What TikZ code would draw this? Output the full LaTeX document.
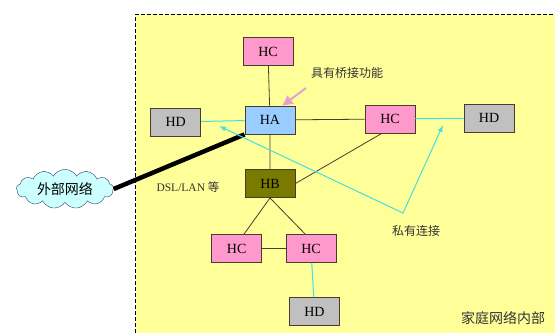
\documentclass[tikz,border=0pt]{standalone}
\usepackage{fontspec}
\setmainfont{Liberation Serif}
\newfontfamily\cjk{Noto Sans CJK SC}
\usetikzlibrary{shapes.symbols,arrows.meta}
\definecolor{bgyellow}{HTML}{FFFF99}
\definecolor{hcpink}{HTML}{FF99CC}
\definecolor{hablue}{HTML}{99CCFF}
\definecolor{hdgray}{HTML}{C0C0C0}
\definecolor{hbolive}{HTML}{7A7A00}
\definecolor{boxline}{HTML}{4A3A30}
\definecolor{privcyan}{HTML}{40E0E0}
\definecolor{bridgepink}{HTML}{E8A0D0}
\definecolor{cloudfill}{HTML}{CCFFFF}
\definecolor{cloudline}{HTML}{2F3F5F}
\definecolor{lbltext}{HTML}{333333}
\begin{document}
\begin{tikzpicture}[x=1pt,y=-1pt,
  box/.style={draw=boxline,line width=0.9pt,minimum width=50pt,minimum height=28pt,inner sep=0pt,font=\fontsize{14}{16}\selectfont},
  hc/.style={box,fill=hcpink},
  hd/.style={box,fill=hdgray},
  lbl/.style={text=lbltext,inner sep=1pt,font=\fontsize{12}{14}\selectfont},
  link/.style={draw=boxline,line width=0.8pt},
  priv/.style={draw=privcyan,line width=1pt}]
\useasboundingbox (0,0) rectangle (555,333);
\fill[bgyellow] (135.6,14) rectangle (555,333);
\draw[line width=1pt,dash pattern=on 4pt off 2pt] (135.6,333) -- (135.6,14) -- (555,14);

% devices
\node[hc] (hct) at (268,51.5) {HC};
\node[box,fill=hablue] (ha) at (270,120) {HA};
\node[hd] (hdl) at (175.7,122) {HD};
\node[hc] (hcr) at (390,119) {HC};
\node[hd] (hdr) at (489,118) {HD};
\node[box,fill=hbolive] (hb) at (270,183.5) {HB};
\node[hc] (hcbl) at (236.7,248.5) {HC};
\node[hc] (hcbr) at (311,248.5) {HC};
\node[hd] (hdb) at (314.5,311.5) {HD};
\node[cloud,cloud puffs=13,cloud puff arc=120,aspect=3.6,draw=cloudline,fill=cloudfill,
  inner xsep=6pt,inner ysep=1pt,
  font=\fontsize{14}{16}\selectfont] (ext) at (65,189) {\cjk 外部网络};

% labels
\node[lbl] (bridge) at (347,73) {\cjk 具有桥接功能};
\node[lbl,font=\fontsize{11.5}{14}\selectfont] (dsl) at (188,187) {DSL/LAN {\cjk 等}};
\node[lbl] (private) at (416,231) {\cjk 私有连接};
\node[lbl,font=\fontsize{14}{16}\selectfont] (home) at (503,318) {\cjk 家庭网络内部};

% links
\draw[link] (hct) -- (ha) -- (hb);
\draw[link] (ha) -- (hcr);
\draw[link] (hcr.240) -- (hb.east);
\draw[link] (hb.south) -- (hcbl.63);
\draw[link] (hb.south) -- (hcbr.112);
\draw[link] (hcbl) -- (hcbr);
\draw[line width=4.5pt] (ext.east) -- (ha.south west);

\draw[priv] (hdl) -- (ha);
\draw[priv] (hcr) -- (hdr);
\draw[priv] (hcbr) -- (hdb);
\coordinate (privl) at (219,126);
\coordinate (pv) at (403,213);
\coordinate (privr) at (443,125);
\draw[priv,{Latex[length=7pt,width=5pt]}-{Latex[length=7pt,width=5pt]}] (privl) -- (pv) -- (privr);

\coordinate (bridgetail) at (306,88);
\draw[draw=bridgepink,fill=bridgepink,line width=2pt,-{Triangle[length=10pt,width=10pt]}] (bridgetail) -- (ha.49);
\end{tikzpicture}
\end{document}
